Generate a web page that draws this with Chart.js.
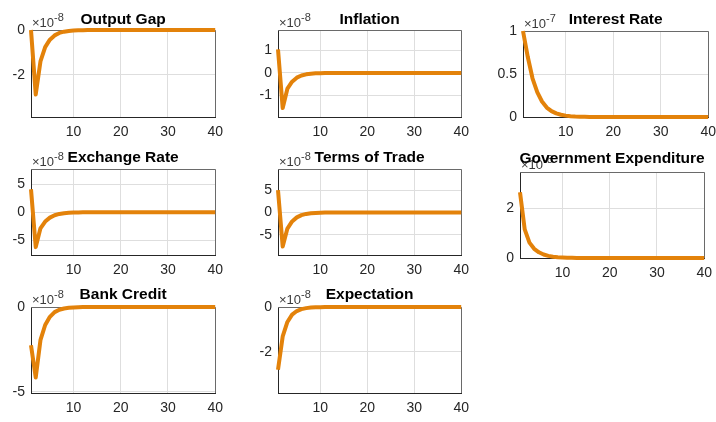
<!DOCTYPE html>
<html>
<head>
<meta charset="utf-8">
<script src="https://cdn.jsdelivr.net/npm/chart.js@4.4.1/dist/chart.umd.min.js"></script>
<style>
  html, body { margin: 0; padding: 0; background: #fff; }
  body { width: 716px; height: 422px; position: relative; overflow: hidden; }
  canvas { position: absolute; }
</style>
</head>
<body>
<script>
// Impulse responses over 40 periods (values scaled by the exponent shown on each axis)
const periods = [1, 2, 3, 4, 5, 6, 7, 8, 9, 10,
                 11, 12, 13, 14, 15, 16, 17, 18, 19, 20,
                 21, 22, 23, 24, 25, 26, 27, 28, 29, 30,
                 31, 32, 33, 34, 35, 36, 37, 38, 39, 40];
const xTicks = [10, 20, 30, 40];

const outputGap = [0, -2.87, -1.40, -0.76, -0.43, -0.24, -0.13, -0.075, -0.042, -0.023,
                   -0.013, -0.007, -0.004, -0.002, -0.001, 0, 0, 0, 0, 0,
                   0, 0, 0, 0, 0, 0, 0, 0, 0, 0,
                   0, 0, 0, 0, 0, 0, 0, 0, 0, 0];
const inflation = [1.05, -1.56, -0.70, -0.39, -0.21, -0.115, -0.063, -0.035, -0.019, -0.011,
                   -0.006, -0.003, -0.002, -0.001, 0, 0, 0, 0, 0, 0,
                   0, 0, 0, 0, 0, 0, 0, 0, 0, 0,
                   0, 0, 0, 0, 0, 0, 0, 0, 0, 0];
const interestRate = [1.0, 0.70, 0.45, 0.29, 0.18, 0.11, 0.068, 0.042, 0.026, 0.016,
                      0.010, 0.006, 0.004, 0.002, 0.001, 0, 0, 0, 0, 0,
                      0, 0, 0, 0, 0, 0, 0, 0, 0, 0,
                      0, 0, 0, 0, 0, 0, 0, 0, 0, 0];
const exchangeRate = [4.1, -6.2, -2.85, -1.65, -0.95, -0.52, -0.29, -0.16, -0.09, -0.05,
                      -0.027, -0.015, -0.008, -0.004, -0.002, 0, 0, 0, 0, 0,
                      0, 0, 0, 0, 0, 0, 0, 0, 0, 0,
                      0, 0, 0, 0, 0, 0, 0, 0, 0, 0];
const termsOfTrade = [5.0, -7.6, -3.6, -2.0, -1.1, -0.6, -0.33, -0.18, -0.10, -0.055,
                      -0.03, -0.016, -0.009, -0.005, -0.003, 0, 0, 0, 0, 0,
                      0, 0, 0, 0, 0, 0, 0, 0, 0, 0,
                      0, 0, 0, 0, 0, 0, 0, 0, 0, 0];
const govExpenditure = [2.65, 1.15, 0.62, 0.37, 0.23, 0.14, 0.085, 0.052, 0.032, 0.02,
                        0.012, 0.007, 0.004, 0.003, 0.002, 0, 0, 0, 0, 0,
                        0, 0, 0, 0, 0, 0, 0, 0, 0, 0,
                        0, 0, 0, 0, 0, 0, 0, 0, 0, 0];
const bankCredit = [-2.25, -4.15, -1.95, -1.06, -0.58, -0.30, -0.16, -0.085, -0.045, -0.024,
                    -0.013, -0.007, -0.004, -0.002, -0.001, 0, 0, 0, 0, 0,
                    0, 0, 0, 0, 0, 0, 0, 0, 0, 0,
                    0, 0, 0, 0, 0, 0, 0, 0, 0, 0];
const expectation = [-2.81, -1.32, -0.67, -0.34, -0.18, -0.095, -0.05, -0.027, -0.014, -0.008,
                     -0.004, -0.002, -0.001, 0, 0, 0, 0, 0, 0, 0,
                     0, 0, 0, 0, 0, 0, 0, 0, 0, 0,
                     0, 0, 0, 0, 0, 0, 0, 0, 0, 0];

// y tick values per panel
const ticksOutputGap = [-2, 0];
const ticksInflation = [-1, 0, 1];
const ticksInterestRate = [0, 0.5, 1];
const ticksExchangeRate = [-5, 0, 5];
const ticksTermsOfTrade = [-5, 0, 5];
const ticksGovExpenditure = [0, 2];
const ticksBankCredit = [-5, 0];
const ticksExpectation = [-2, 0];

const FONT = '"Liberation Sans", Arial, Helvetica, sans-serif';
const LINE_COLOR = '#E3820A';
const AXIS_COLOR = '#262626';
const GRID_COLOR = '#dedede';

// room around each plot box inside its canvas
const PAD_L = 44, PAD_T = 34, PAD_R = 12, PAD_B = 26;

// plot boxes: [left, top, right, bottom] in page pixels; titleY = title baseline on the page
const panels = [
  { title: 'Output Gap', exp: '-8', values: outputGap, min: -3.87, max: 0, ticks: ticksOutputGap, box: [31, 30, 218, 117], titleY: 23.5 },
  { title: 'Inflation', exp: '-8', values: inflation, min: -1.96, max: 1.91, ticks: ticksInflation, box: [278, 30, 464, 117], titleY: 23.5 },
  { title: 'Interest Rate', exp: '-7', values: interestRate, min: 0, max: 1, ticks: ticksInterestRate, box: [523, 31, 711, 117], titleY: 23.5 },
  { title: 'Exchange Rate', exp: '-8', values: exchangeRate, min: -7.6, max: 7.7, ticks: ticksExchangeRate, box: [31, 169, 218, 255], titleY: 162 },
  { title: 'Terms of Trade', exp: '-8', values: termsOfTrade, min: -9.5, max: 9.7, ticks: ticksTermsOfTrade, box: [278, 169, 464, 255], titleY: 162 },
  { title: 'Government Expenditure', exp: '-8', values: govExpenditure, min: 0, max: 3.46, ticks: ticksGovExpenditure, box: [520, 172, 707, 258], titleY: 162.5 },
  { title: 'Bank Credit', exp: '-8', values: bankCredit, min: -5.06, max: 0, ticks: ticksBankCredit, box: [31, 307, 218, 393], titleY: 298.5 },
  { title: 'Expectation', exp: '-8', values: expectation, min: -3.85, max: 0, ticks: ticksExpectation, box: [278, 307, 464, 393], titleY: 298.5 }
];

// box outline, exponent label and title for each axes
const axesDecor = {
  id: 'axesDecor',
  beforeDatasetsDraw(chart) {
    const { ctx, chartArea: a } = chart;
    ctx.save();
    ctx.strokeStyle = '#6a6a6a';
    ctx.lineWidth = 1;
    ctx.beginPath();
    ctx.moveTo(a.left, Math.round(a.top) + 0.5);
    ctx.lineTo(Math.round(a.right) + 0.5, Math.round(a.top) + 0.5);
    ctx.lineTo(Math.round(a.right) + 0.5, a.bottom);
    ctx.stroke();
    ctx.restore();
  },
  afterDraw(chart, args, opts) {
    const { ctx, chartArea: a } = chart;
    ctx.save();
    // exponent: x10^n
    ctx.fillStyle = '#3a3a3a';
    ctx.textBaseline = 'alphabetic';
    ctx.textAlign = 'left';
    ctx.font = '13px ' + FONT;
    const base = '\u00d710';
    const bx = a.left + 1, by = a.top - 3;
    ctx.fillText(base, bx, by);
    const w = ctx.measureText(base).width;
    ctx.font = '11px ' + FONT;
    ctx.fillText(opts.exp, bx + w, by - 6);
    // title
    ctx.fillStyle = '#000';
    ctx.font = 'bold 15.5px ' + FONT;
    ctx.textAlign = 'center';
    ctx.fillText(opts.title, (a.left + a.right) / 2, opts.titleY);
    ctx.restore();
  }
};

panels.forEach(p => {
  const [l, t, r, b] = p.box;
  const canvas = document.createElement('canvas');
  const cw = (r - l) + PAD_L + PAD_R;
  const ch = (b - t) + PAD_T + PAD_B;
  canvas.width = cw;
  canvas.height = ch;
  canvas.style.width = cw + 'px';
  canvas.style.height = ch + 'px';
  canvas.style.left = (l - PAD_L) + 'px';
  canvas.style.top = (t - PAD_T) + 'px';
  document.body.appendChild(canvas);

  new Chart(canvas, {
    type: 'line',
    data: {
      datasets: [{
        data: periods.map((x, i) => ({ x: x, y: p.values[i] })),
        borderColor: LINE_COLOR,
        borderWidth: 4,
        pointRadius: 0,
        tension: 0,
        fill: false,
        clip: false,
        borderJoinStyle: 'round',
        borderCapStyle: 'butt'
      }]
    },
    options: {
      responsive: false,
      animation: false,
      events: [],
      devicePixelRatio: 1,
      layout: { padding: { left: 0, top: PAD_T, right: PAD_R, bottom: 0 } },
      plugins: {
        legend: { display: false },
        tooltip: { enabled: false },
        axesDecor: { title: p.title, exp: p.exp, titleY: p.titleY - (t - PAD_T) }
      },
      scales: {
        x: {
          type: 'linear',
          min: 1,
          max: 40,
          afterBuildTicks: s => { s.ticks = xTicks.map(v => ({ value: v })); },
          afterFit: s => { s.height = PAD_B; },
          grid: { color: GRID_COLOR, drawTicks: false },
          border: { color: AXIS_COLOR },
          ticks: { font: { family: FONT, size: 14 }, color: AXIS_COLOR, padding: 7, maxRotation: 0 }
        },
        y: {
          type: 'linear',
          min: p.min,
          max: p.max,
          afterBuildTicks: s => { s.ticks = p.ticks.map(v => ({ value: v })); },
          afterFit: s => { s.width = PAD_L; },
          grid: { color: GRID_COLOR, drawTicks: false },
          border: { color: AXIS_COLOR },
          ticks: { font: { family: FONT, size: 14 }, color: AXIS_COLOR, padding: 6, callback: v => String(v) }
        }
      }
    },
    plugins: [axesDecor]
  });
});
</script>
</body>
</html>
